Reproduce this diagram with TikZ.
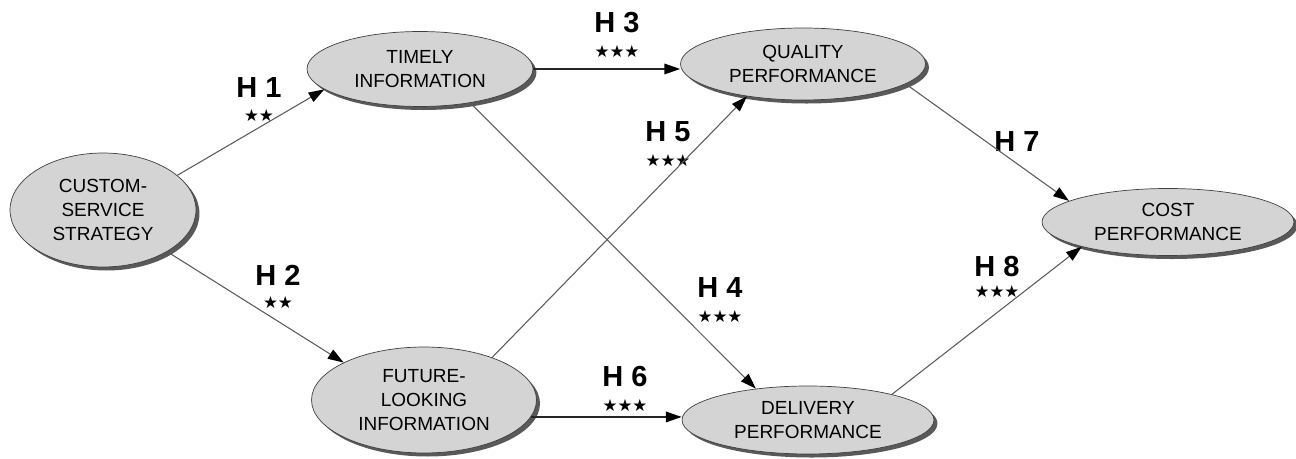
\documentclass[tikz,border=0pt]{standalone}
\usepackage{fontspec}
\setmainfont{Liberation Sans}
\newfontfamily\starfont{DejaVu Sans}
\usetikzlibrary{arrows.meta,shapes.geometric,shadows}
\usetikzlibrary{calc}
\usetikzlibrary{positioning}

\begin{document}
\begin{tikzpicture}[x=0.02cm,y=-0.02cm,>={Triangle[length=9pt,width=6pt,color=black]},semithick]
	\tikzstyle{var}=[draw=black!75, thin, fill=black!17, ellipse, inner sep=0pt, align=center,
		font=\fontsize{10.8}{13.6}\selectfont,
		drop shadow={shadow xshift=2pt, shadow yshift=-2pt, fill=black!65, opacity=1}]
	\tikzstyle{hyp}=[font=\fontsize{16.5}{18}\selectfont\bfseries, inner sep=0pt]
	\tikzstyle{sig}=[font=\starfont\fontsize{9.5}{10}\selectfont, inner sep=0pt]
	\tikzstyle{every edge}=[->, draw=black!65, line width=0.6pt]
	\tikzstyle{main}=[draw=black!85, line width=0.9pt]
	\useasboundingbox (0,0) rectangle (1296,459);
	\node[var, minimum width=3.72cm, minimum height=2.28cm] (css)  at (103,210)  {CUSTOM-\\SERVICE\\STRATEGY};
	\node[var, minimum width=4.52cm, minimum height=1.5cm]  (tim)  at (420,69)   {TIMELY\\INFORMATION};
	\node[var, minimum width=4.9cm,  minimum height=1.44cm] (qual) at (803,64)   {QUALITY\\PERFORMANCE};
	\node[var, minimum width=4.5cm,  minimum height=2.12cm] (fut)  at (424,400)  {FUTURE-\\LOOKING\\INFORMATION};
	\node[var, minimum width=5.04cm, minimum height=1.36cm] (del)  at (808,420)  {DELIVERY\\PERFORMANCE};
	\node[var, minimum width=5.04cm, minimum height=1.34cm] (cost) at (1168,222) {COST\\PERFORMANCE};
	% hypotheses
	\node[hyp] (h1) at (259,88)  {H 1};
	\node[sig] (s1) at (259,116) {★★};
	\node[hyp] (h2) at (278,275) {H 2};
	\node[sig] (s2) at (278,303) {★★};
	\node[hyp] (h3) at (617,23)  {H 3};
	\node[sig] (s3) at (617,52)  {★★★};
	\node[hyp] (h4) at (720,288) {H 4};
	\node[sig] (s4) at (720,317) {★★★};
	\node[hyp] (h5) at (668,132) {H 5};
	\node[sig] (s5) at (668,161) {★★★};
	\node[hyp] (h6) at (625,377) {H 6};
	\node[sig] (s6) at (625,406) {★★★};
	\node[hyp] (h7) at (1017,142) {H 7};
	\node[hyp] (h8) at (997,267) {H 8};
	\node[sig] (s8) at (997,292) {★★★};
	\path
		(css.25) edge (tim.192)
		(css.-33) edge (fut.155)
		(tim.east) edge[main] (tim.east -| qual.west)
		(tim.-34) edge (del.149)
		(fut.32) edge (qual.210)
		(fut.-9) edge[main] (fut.-9 -| del.west)
		(qual.-11) edge (cost.168)
		(del.17) edge (cost.196);
\end{tikzpicture}
\end{document}
